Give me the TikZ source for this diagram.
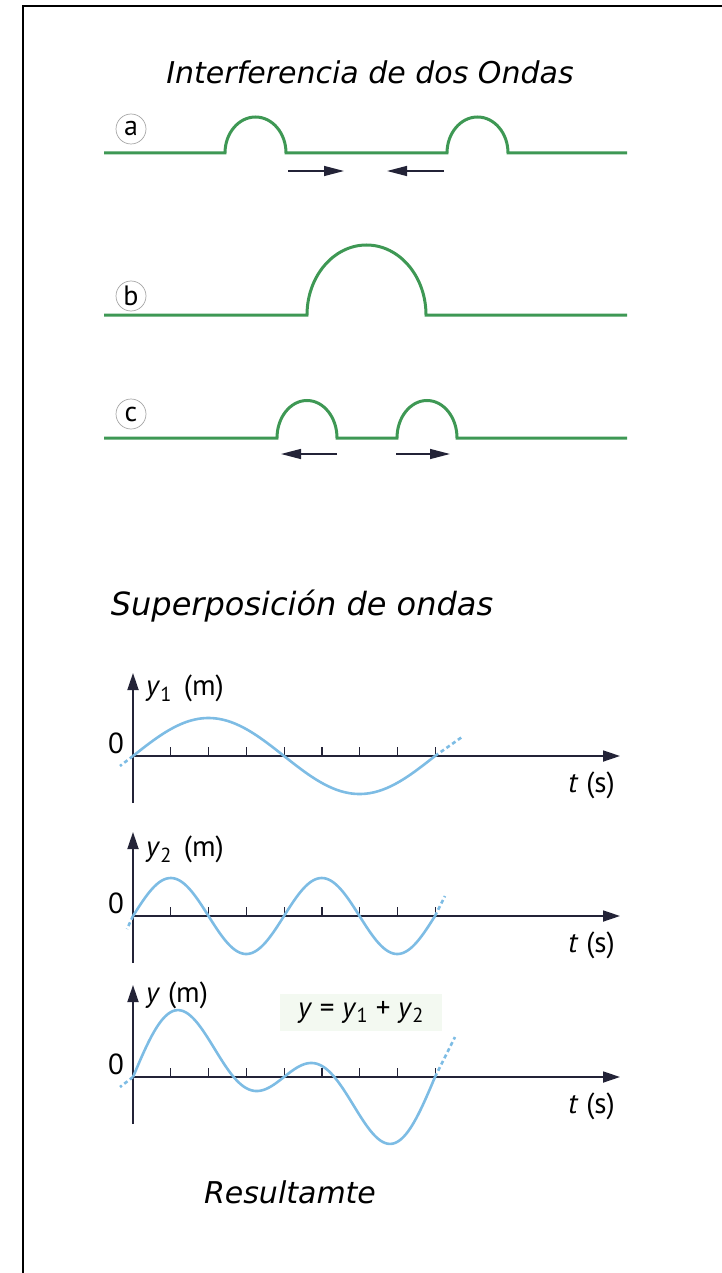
\documentclass[tikz,border=0pt]{standalone}
\usepackage{fontspec}
\setmainfont{DejaVu Sans}
\newfontfamily\lblfont{PT Sans}
\usetikzlibrary{positioning, arrows.meta}

\definecolor{strgreen}{RGB}{62,152,84}
\definecolor{wavblue}{RGB}{125,188,228}
\definecolor{axisnavy}{RGB}{35,35,55}
\definecolor{eqbg}{RGB}{243,249,241}

\begin{document}
\begin{tikzpicture}[x=1pt, y=-1pt,
    string/.style={draw=strgreen, line width=3pt},
    move/.style={draw=axisnavy, line width=1.4pt,
      -{Triangle[length=20pt, width=10pt]}},
    tag/.style={draw=gray!70, circle, line width=0.7pt, minimum size=30pt,
      inner sep=0pt, font=\lblfont\fontsize{28}{28}\selectfont},
    heading/.style={font=\itshape\fontsize{30}{34}\selectfont},
    axis/.style={draw=axisnavy, line width=1.8pt,
      -{Triangle[length=17pt, width=11pt]}},
    tick/.style={draw=axisnavy, line width=1.3pt},
    wave/.style={draw=wavblue, line width=2.6pt},
    ext/.style={wave, dash pattern=on 4pt off 3pt},
    lbl/.style={font=\lblfont\fontsize{29}{32}\selectfont, inner sep=0pt}
  ]
  \useasboundingbox (0,0) rectangle (722,1273);
  \draw[line width=2.5pt] (23,1273) -- (23,6) -- (722,6);

  % interferencia
  \node[heading] (ttlInt) at (370,72) {Interferencia de dos Ondas};

  \node[tag] (tagA) at (131,129) {a};
  \draw[string] (104,153) -- (225,153)
    arc[start angle=180, end angle=0, x radius=30.5pt, y radius=36pt]
    -- (447,153)
    arc[start angle=180, end angle=0, x radius=30.5pt, y radius=36pt]
    -- (627,153);
  \coordinate (a1) at (288,171);
  \coordinate (a2) at (344,171);
  \coordinate (a3) at (444,171);
  \coordinate (a4) at (387,171);
  \draw[move] (a1) -- (a2);
  \draw[move] (a3) -- (a4);

  \node[tag] (tagB) at (131,296) {b};
  \draw[string] (104,315) -- (307,315)
    arc[start angle=180, end angle=0, x radius=59.5pt, y radius=70pt]
    -- (627,315);

  \node[tag] (tagC) at (131,414) {c};
  \draw[string] (104,438) -- (277,438)
    arc[start angle=180, end angle=0, x radius=30pt, y radius=37.5pt]
    -- (397,438)
    arc[start angle=180, end angle=0, x radius=30pt, y radius=37.5pt]
    -- (627,438);
  \coordinate (c1) at (337,454);
  \coordinate (c2) at (281,454);
  \coordinate (c3) at (396,454);
  \coordinate (c4) at (450,454);
  \draw[move] (c1) -- (c2);
  \draw[move] (c3) -- (c4);

  % superposicion
  \node[heading, font=\itshape\fontsize{32}{36}\selectfont] (ttlSup) at (302,606)
    {Superposición de ondas};

  \foreach \oy/\k/\ylab/\ly/\tp in {756/1/{\textit{y}\textsubscript{1}\hspace{12pt}(m)}/68/83,
      916/2/{\textit{y}\textsubscript{2}\hspace{12pt}(m)}/67/84,
      1077/3/{\textit{y} (m)}/82/92} {
    \draw[axis] (133,\oy) -- (620,\oy);
    \draw[axis] (133,\oy+47) -- (133,\oy-\tp);
    \foreach \i in {1,...,8}
      \draw[tick] (133+37.8*\i,\oy) -- (133+37.8*\i,\oy-9);
    \node[lbl] (zero\k) at (116,\oy-13) {0};
    \node[lbl, anchor=east] (tlab\k) at (615,\oy+29) {\textit{t} (s)};
    \node[lbl, anchor=west] (ylab\k) at (146,\oy-\ly) {\ylab};
  }

  \draw[wave] plot[domain=0:302, samples=120]
    ({133+\x}, {756-38*sin(\x/302*360)});
  \draw[ext] (133,756) -- (120,766);
  \draw[ext] (435,756) -- (462,737);

  \draw[wave] plot[domain=0:302, samples=160]
    ({133+\x}, {916-38*sin(\x/302*720)});
  \draw[ext] (133,916) -- (127,929);
  \draw[ext] (435,916) -- (445,896);

  \node[lbl, fill=eqbg, minimum width=162pt, minimum height=37pt]
    (eq) at (361,1012) {\textit{y} = \textit{y}\textsubscript{1} + \textit{y}\textsubscript{2}};
  \draw[wave] plot[domain=0:302, samples=200]
    ({133+\x}, {1077-38*(sin(\x/302*360)+sin(\x/302*720))});
  \draw[ext] (133,1077) -- (120,1087);
  \draw[ext] (435,1077) -- (455,1037);

  \node[heading] (ttlRes) at (290,1192) {Resultamte};
\end{tikzpicture}
\end{document}
